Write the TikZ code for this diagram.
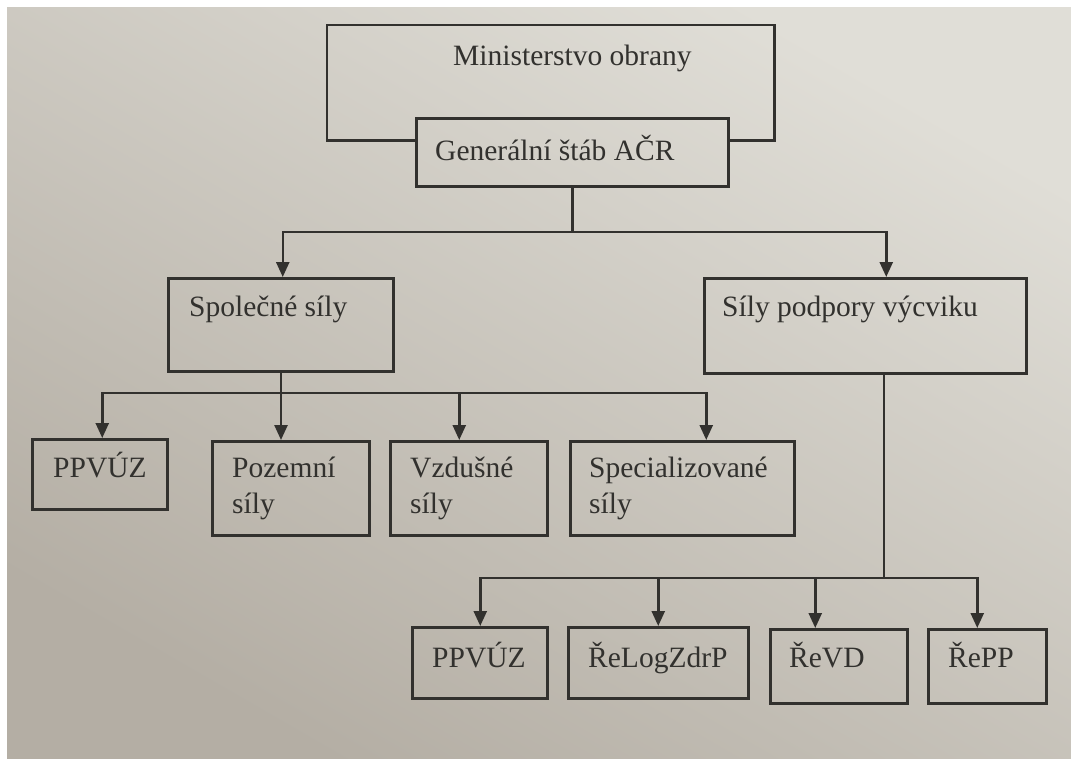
\documentclass[tikz,border=0pt]{standalone}
\usepackage{fontspec}
\setmainfont{Liberation Serif}
\usetikzlibrary{arrows.meta,calc}
\definecolor{ink}{RGB}{50,49,46}
\definecolor{bglight}{RGB}{224,222,215}
\definecolor{bgdark}{RGB}{180,174,164}
\tikzset{
  ln/.style={draw=ink, line width=2.5pt},
  arr/.style={ln, -{Triangle[width=13pt,length=15pt]}},
  bx/.style 2 args={ln, anchor=north west, inner sep=0pt, minimum width=#1, minimum height=#2},
  txt/.style={anchor=base west, inner sep=0pt, text=ink, align=left, font=\fontsize{29.5}{36}\selectfont},
}
\begin{document}
\begin{tikzpicture}[x=1pt,y=-1pt]
\useasboundingbox (0,0) rectangle (1071,758);
\fill[white] (0,0) rectangle (1071,758);
\shade[shading=axis, top color=bglight, bottom color=bgdark, shading angle=-30] (7,7) rectangle (1071,758);

% boxes
\node[bx={445pt}{113pt}, draw=none] (mo) at (327,25) {};
\node[bx={312pt}{68pt}] (gs) at (415,117) {};
\node[bx={225pt}{93pt}] (sp) at (167,277) {};
\node[bx={322pt}{95pt}] (pv) at (703,277) {};
\node[bx={135pt}{70pt}] (a1) at (31,438) {};
\node[bx={157pt}{94pt}] (a2) at (211,440) {};
\node[bx={157pt}{94pt}] (a3) at (389,440) {};
\node[bx={224pt}{94pt}] (a4) at (569,440) {};
\node[bx={135pt}{71pt}] (b1) at (411,626) {};
\node[bx={180pt}{71pt}] (b2) at (567,626) {};
\node[bx={137pt}{74pt}] (b3) at (769,628) {};
\node[bx={118pt}{74pt}] (b4) at (927,628) {};

% Ministerstvo outline (hidden behind Generalni stab)
\draw[ln] (mo.south -| gs.west) -- (mo.south west) -- (mo.north west) -- (mo.north east) -- (mo.south east) -- (mo.south -| gs.east);

% texts
\node[txt] (tmo) at (453,65) {Ministerstvo obrany};
\node[txt] (tgs) at (435,160) {Generální štáb AČR};
\node[txt] (tsp) at (189,316) {Společné síly};
\node[txt] (tpv) at (722,316) {Síly podpory výcviku};
\node[txt] (ta1) at (53,477) {PPVÚZ};
\node[txt] (ta2) at (232,513) {Pozemní\\síly};
\node[txt] (ta3) at (410,513) {Vzdušné\\síly};
\node[txt] (ta4) at (589,513) {Specializované\\síly};
\node[txt] (tb1) at (432,667) {PPVÚZ};
\node[txt] (tb2) at (588,667) {ŘeLogZdrP};
\node[txt] (tb3) at (789,667) {ŘeVD};
\node[txt] (tb4) at (948,667) {ŘePP};

% connectors
\coordinate (j1) at (gs.south |- 0,232);
\draw[ln] (gs.south) -- (j1);
\draw[arr] (j1) -| ([xshift=2pt]sp.north);
\draw[arr] (j1) -| ([xshift=21pt]pv.north);

\coordinate (j2) at (281,393);
\draw[ln] (sp.south -| j2) -- (j2);
\draw[arr] (j2) -| ([xshift=2.5pt]a1.north);
\draw[arr] (j2) -- (a2.north -| j2);
\draw[arr] (j2) -| ([xshift=-9.5pt]a3.north);
\draw[arr] (j2) -| ([xshift=24pt]a4.north);

\coordinate (j3) at (884,578);
\draw[ln] (pv.south -| j3) -- (j3);
\draw[arr] (j3) -| ([xshift=0.5pt]b1.north);
\draw[arr] (j3) -| (b2.north);
\draw[arr] (j3) -| ([xshift=-23.5pt]b3.north);
\draw[arr] (j3) -| ([xshift=-10pt]b4.north);
\end{tikzpicture}
\end{document}
